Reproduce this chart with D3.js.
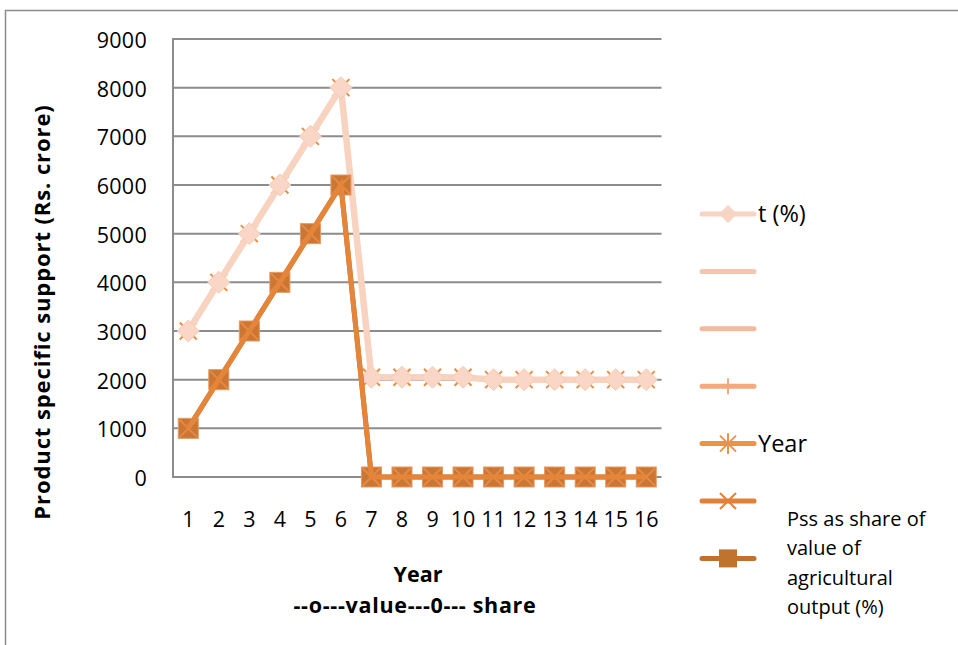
<!DOCTYPE html>
<html>
<head>
<meta charset="utf-8">
<script src="https://cdn.jsdelivr.net/npm/d3@7"></script>
<style>
  html, body { margin: 0; padding: 0; background: #fff; }
  svg { display: block; font-family: "Open Sans", "Noto Sans", sans-serif; }
</style>
</head>
<body>
<svg id="chart" width="958" height="645"></svg>
<script>
// ---- data ----
const categories = [1, 2, 3, 4, 5, 6, 7, 8, 9, 10, 11, 12, 13, 14, 15, 16];
const tPercent   = [3000, 4000, 5000, 6000, 7000, 8000, 2050, 2050, 2050, 2050, 2000, 2000, 2000, 2000, 2000, 2000];
const crossUpper = [3000, 4000, 5000, 6000, 7000, 8000, 2050, 2050, 2050, 2050, 2000, 2000, 2000, 2000, 2000, 2000];
const pssShare   = [1000, 2000, 3000, 4000, 5000, 6000, 0, 0, 0, 0, 0, 0, 0, 0, 0, 0];
const crossLower = [1000, 2000, 3000, 4000, 5000, 6000, 0, 0, 0, 0, 0, 0, 0, 0, 0, 0];
const yTicks = [0, 1000, 2000, 3000, 4000, 5000, 6000, 7000, 8000, 9000];
const legendLabels = ["t (%)", "", "", "", "Year", "", "Pss as share of value of agricultural output (%)"];
const legendWrapped = ["Pss as share of", "value of", "agricultural", "output (%)"];
const legendMarkers = ["diamond", "none", "none", "plus", "asterisk", "cross", "square"];
const legendColors = ["#F8D4C2", "#F5C6AE", "#F3BB9E", "#F4A97F", "#EE9346", "#E2803A", "#C0702F"];
const yTitle = "Product specific support (Rs. crore)";
const xTitle = ["Year", "--o---value---0--- share"];

// ---- layout ----
const svg = d3.select("#chart");
const L = 173, R = 661.5, T = 39, B = 477;
const x = d3.scaleBand().domain(categories).range([L, R]);
const y = d3.scaleLinear().domain([0, 9000]).range([B, T]);
const cx = d => x(d) + x.bandwidth() / 2;
const gridColor = "#8C8C8C";

// frame
svg.append("path").attr("d", "M5.5,660 L5.5,10.5 L970,10.5")
  .attr("fill", "none").attr("stroke", "#8C8C8C").attr("stroke-width", 1.5);

// gridlines
svg.append("g").selectAll("line").data(yTicks.filter(v => v > 0)).join("line")
  .attr("x1", L).attr("x2", R).attr("y1", d => y(d)).attr("y2", d => y(d))
  .attr("stroke", gridColor).attr("stroke-width", 2);

// axes lines
svg.append("line").attr("x1", L).attr("x2", L).attr("y1", T - 1).attr("y2", B + 1)
  .attr("stroke", gridColor).attr("stroke-width", 2);
svg.append("line").attr("x1", L).attr("x2", R).attr("y1", B).attr("y2", B)
  .attr("stroke", gridColor).attr("stroke-width", 2);

// y axis labels via d3 axis
const yAxis = svg.append("g").attr("transform", `translate(${L},0)`)
  .call(d3.axisLeft(y).tickValues(yTicks).tickSize(0).tickPadding(26).tickFormat(d3.format("d")));
yAxis.select(".domain").remove();
yAxis.selectAll("text").attr("font-size", 21.5).attr("fill", "#000").attr("font-family", "Open Sans")
  .attr("dy", "0.4em").attr("letter-spacing", 0.3);

// x axis labels
const xAxis = svg.append("g").attr("transform", `translate(0,${B})`)
  .call(d3.axisBottom(x).tickSize(0).tickPadding(46));
xAxis.select(".domain").remove();
xAxis.selectAll("text").attr("font-size", 21.5).attr("fill", "#000").attr("font-family", "Open Sans")
  .attr("dy", "0.2em");

// axis titles
svg.append("text").attr("transform", `translate(50,312) rotate(-90)`)
  .attr("text-anchor", "middle").attr("font-weight", "bold").attr("font-size", 22)
  .attr("letter-spacing", 0.9)
  .text(yTitle);
svg.append("text").attr("x", 418).attr("y", 582).attr("text-anchor", "middle")
  .attr("font-weight", "bold").attr("font-size", 21.5).text(xTitle[0]);
svg.append("text").attr("x", 415).attr("y", 613).attr("text-anchor", "middle")
  .attr("font-weight", "bold").attr("font-size", 21.5).attr("letter-spacing", 0.7).text(xTitle[1]);

// marker helpers
function drawMarker(g, type, px, py, color, s) {
  if (type === "diamond") {
    g.append("path").attr("d", `M${px},${py - s} L${px + s},${py} L${px},${py + s} L${px - s},${py} Z`)
      .attr("fill", "#F9D6C5").attr("stroke", "#F6CBB5").attr("stroke-width", 1);
  } else if (type === "square") {
    g.append("rect").attr("x", px - s).attr("y", py - s).attr("width", 2 * s).attr("height", 2 * s)
      .attr("fill", "#CB7633").attr("stroke", "#E49A62").attr("stroke-width", 1);
  } else if (type === "cross") {
    g.append("path").attr("d", `M${px - s},${py - s} L${px + s},${py + s} M${px - s},${py + s} L${px + s},${py - s}`)
      .attr("stroke", color).attr("stroke-width", 2);
  } else if (type === "asterisk") {
    g.append("path").attr("d", `M${px - s},${py - s} L${px + s},${py + s} M${px - s},${py + s} L${px + s},${py - s} M${px},${py - s * 1.3} L${px},${py + s * 1.3}`)
      .attr("stroke", color).attr("stroke-width", 2);
  } else if (type === "plus") {
    g.append("path").attr("d", `M${px},${py - s} L${px},${py + s}`)
      .attr("stroke", color).attr("stroke-width", 2);
  }
}

const line = d3.line().x((d, i) => cx(categories[i])).y(d => y(d));

// upper: cross markers beneath, then diamond series on top
const gUpperX = svg.append("g");
gUpperX.append("path").datum(crossUpper).attr("d", line).attr("fill", "none")
  .attr("stroke", "#EE9346").attr("stroke-width", 4);
crossUpper.forEach((v, i) => drawMarker(gUpperX, "cross", cx(categories[i]), y(v), "#EE8C42", 8.5));

const gUpper = svg.append("g");
gUpper.append("path").datum(tPercent).attr("d", line).attr("fill", "none")
  .attr("stroke", "#F8D3C0").attr("stroke-width", 6.5).attr("stroke-linejoin", "round");
tPercent.forEach((v, i) => drawMarker(gUpper, "diamond", cx(categories[i]), y(v), "#F8D3C0", 11));

// lower: square series, then orange line with cross markers on top
const gLower = svg.append("g");
gLower.append("path").datum(pssShare).attr("d", line).attr("fill", "none")
  .attr("stroke", "#C0702F").attr("stroke-width", 5);
pssShare.forEach((v, i) => drawMarker(gLower, "square", cx(categories[i]), y(v), "#C0702F", 10));

const gLowerX = svg.append("g");
crossLower.forEach((v, i) => drawMarker(gLowerX, "cross", cx(categories[i]), y(v), "#E58A45", 9));
gLowerX.append("path").datum(crossLower).attr("d", line).attr("fill", "none")
  .attr("stroke", "#E4853A").attr("stroke-width", 5);

// legend
const lg = svg.append("g");
legendLabels.forEach((lab, i) => {
  const ly = 214 + i * 57.4;
  lg.append("line").attr("x1", 702).attr("x2", 754).attr("y1", ly).attr("y2", ly)
    .attr("stroke", legendColors[i]).attr("stroke-width", 5).attr("stroke-linecap", "round");
  if (legendMarkers[i] === "diamond") {
    lg.append("path").attr("d", `M728,${ly - 9} L737,${ly} L728,${ly + 9} L719,${ly} Z`)
      .attr("fill", "#F8D4C2");
  } else if (legendMarkers[i] === "square") {
    lg.append("rect").attr("x", 719).attr("y", ly - 9).attr("width", 18).attr("height", 18)
      .attr("fill", "#C0722F");
  } else if (legendMarkers[i] !== "none") {
    drawMarker(lg, legendMarkers[i], 728, ly, legendColors[i], 8);
  }
  if (i === legendLabels.length - 1) {
    legendWrapped.forEach((w, j) => {
      lg.append("text").attr("x", 787).attr("y", 526 + j * 29.3).attr("font-size", 20).text(w);
    });
  } else if (lab) {
    lg.append("text").attr("x", 758).attr("y", ly + 8).attr("font-size", 23.5).text(lab);
  }
});
</script>
</body>
</html>
